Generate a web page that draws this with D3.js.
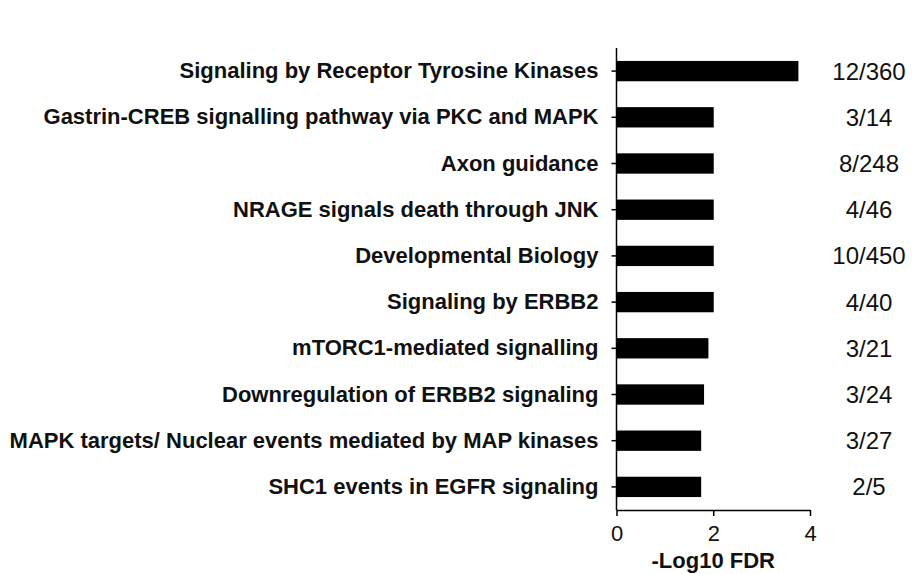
<!DOCTYPE html>
<html>
<head>
<meta charset="utf-8">
<script src="https://cdn.jsdelivr.net/npm/d3@7"></script>
<style>
  body { margin: 0; background: #fff; }
  svg text { font-family: "Liberation Sans", Arial, sans-serif; fill: #111; }
</style>
</head>
<body>
<div id="chart"></div>
<script>
// --- data ---
const pathways = [
  "Signaling by Receptor Tyrosine Kinases",
  "Gastrin-CREB signalling pathway via PKC and MAPK",
  "Axon guidance",
  "NRAGE signals death through JNK",
  "Developmental Biology",
  "Signaling by ERBB2",
  "mTORC1-mediated signalling",
  "Downregulation of ERBB2 signaling",
  "MAPK targets/ Nuclear events mediated by MAP kinases",
  "SHC1 events in EGFR signaling"
];
const logFdr = [3.76, 2.01, 2.01, 2.01, 2.01, 2.01, 1.90, 1.81, 1.75, 1.75];
const geneCounts = ["12/360", "3/14", "8/248", "4/46", "10/450", "4/40", "3/21", "3/24", "3/27", "2/5"];
const xTicks = [0, 2, 4];

const width = 923, height = 574;

const svg = d3.select("#chart").append("svg")
  .attr("width", width)
  .attr("height", height);

// scales
const x = d3.scaleLinear().domain([0, 4]).range([616.5, 810]);
const y = d3.scaleBand().domain(pathways).range([48, 510])
  .paddingInner(0.56).paddingOuter(0.28);

// bars
svg.append("g")
  .selectAll("rect")
  .data(pathways)
  .join("rect")
  .attr("x", x(0))
  .attr("y", d => y(d))
  .attr("width", (d, i) => x(logFdr[i]) - x(0))
  .attr("height", y.bandwidth())
  .attr("fill", "#000");

// y axis
const yAxis = svg.append("g")
  .attr("transform", `translate(${x(0)},0)`)
  .call(d3.axisLeft(y).tickSize(5).tickPadding(13).tickSizeOuter(0));
yAxis.select(".domain").attr("stroke", "#000").attr("stroke-width", 1.5)
  .attr("d", `M0,48V510`);
yAxis.selectAll(".tick line").attr("stroke", "#000").attr("stroke-width", 1.5);
yAxis.selectAll(".tick text")
  .style("font-size", "22px")
  .style("font-weight", "bold")
  .attr("fill", "#111");

// x axis
const xAxis = svg.append("g")
  .attr("transform", "translate(0,510)")
  .call(d3.axisBottom(x).tickValues(xTicks).tickFormat(d3.format("d"))
    .tickSize(6).tickPadding(9).tickSizeOuter(0));
xAxis.select(".domain").attr("stroke", "#000").attr("stroke-width", 1.5);
xAxis.selectAll(".tick line").attr("stroke", "#000").attr("stroke-width", 1.5);
xAxis.selectAll(".tick text")
  .style("font-size", "22px")
  .attr("fill", "#111");

// x title
svg.append("text")
  .attr("x", (x(0) + x(4)) / 2)
  .attr("y", 568)
  .attr("text-anchor", "middle")
  .style("font-size", "22px")
  .style("font-weight", "bold")
  .text("-Log10 FDR");

// gene counts on the right
svg.append("g")
  .selectAll("text")
  .data(geneCounts)
  .join("text")
  .attr("x", 869)
  .attr("y", (d, i) => y(pathways[i]) + y.bandwidth() / 2)
  .attr("dy", "0.35em")
  .attr("text-anchor", "middle")
  .style("font-size", "24px")
  .text(d => d);
</script>
</body>
</html>
